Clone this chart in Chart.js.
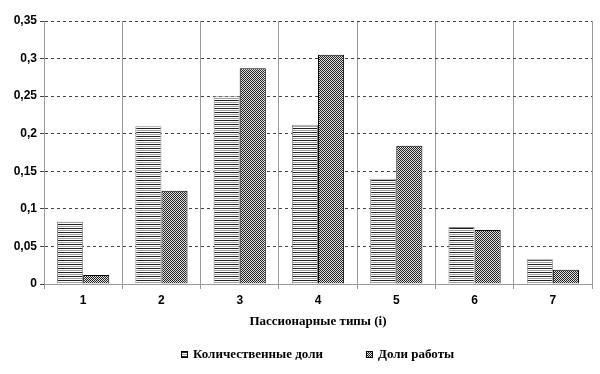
<!DOCTYPE html>
<html>
<head>
<meta charset="utf-8">
<script src="https://cdn.jsdelivr.net/npm/chart.js@4"></script>
<style>
  html, body { margin: 0; padding: 0; background: #fff; }
  #wrap { width: 600px; height: 374px; }
</style>
</head>
<body>
<div id="wrap"><canvas id="c"></canvas></div>
<script>
const categories = ['1', '2', '3', '4', '5', '6', '7'];
const quantityShares = [0.083, 0.21, 0.25, 0.212, 0.14, 0.076, 0.033];
const workShares = [0.012, 0.124, 0.287, 0.305, 0.184, 0.072, 0.019];
const yTicks = [0, 0.05, 0.1, 0.15, 0.2, 0.25, 0.3, 0.35];

// striped fill for the first series
function stripePattern() {
    const t = document.createElement('canvas');
    t.width = 4; t.height = 4;
    const g = t.getContext('2d');
    g.fillStyle = '#fff'; g.fillRect(0, 0, 4, 4);
    g.fillStyle = '#222'; g.fillRect(0, 0, 4, 1);
    g.fillStyle = '#a0a0a0'; g.fillRect(0, 2, 4, 1);
    return g.createPattern(t, 'repeat');
}

// checker fill for the second series
function checkPattern() {
    const t = document.createElement('canvas');
    t.width = 2; t.height = 2;
    const g = t.getContext('2d');
    g.fillStyle = '#e0e0e0'; g.fillRect(0, 0, 2, 2);
    g.fillStyle = '#222'; g.fillRect(0, 0, 1, 1); g.fillRect(1, 1, 1, 1);
    return g.createPattern(t, 'repeat');
}

const stripes = stripePattern();
const checks = checkPattern();

// legend drawn below the axis title, centred on the plot area
const bottomLegend = {
    id: 'bottomLegend',
    afterDraw(chart) {
        const ctx = chart.ctx;
        const area = chart.chartArea;
        const y = 355;
        const box = 7, gap = 5, between = 43;
        ctx.save();
        ctx.font = 'bold 13px "Liberation Serif"';
        ctx.textBaseline = 'middle';
        const items = chart.data.datasets.map(ds => ({
            text: ds.label, fill: ds.backgroundColor,
            w: box + gap + ctx.measureText(ds.label).width
        }));
        const total = items.reduce((s, it) => s + it.w, 0) + between * (items.length - 1);
        let x = Math.round((area.left + area.right) / 2 - total / 2);
        items.forEach(it => {
            ctx.fillStyle = it.fill;
            ctx.fillRect(x, y - 4, box, box);
            ctx.strokeStyle = '#000';
            ctx.lineWidth = 1;
            ctx.strokeRect(x + 0.5, y - 3.5, box - 1, box - 1);
            ctx.fillStyle = '#000';
            ctx.fillText(it.text, x + box + gap, y);
            x += it.w + between;
        });
        ctx.restore();
    }
};

new Chart(document.getElementById('c'), {
    type: 'bar',
    data: {
        labels: categories,
        datasets: [
            {
                label: 'Количественные доли',
                data: quantityShares,
                backgroundColor: stripes,
                borderColor: '#888',
                borderWidth: 1,
                barPercentage: 1,
                categoryPercentage: 0.667
            },
            {
                label: 'Доли работы',
                data: workShares,
                backgroundColor: checks,
                borderColor: '#000',
                borderWidth: 1,
                barPercentage: 1,
                categoryPercentage: 0.667
            }
        ]
    },
    options: {
        responsive: true,
        maintainAspectRatio: false,
        animation: false,
        layout: { padding: { top: 21, right: 8, left: 0, bottom: 45 } },
        plugins: {
            tooltip: { enabled: false },
            legend: { display: false }
        },
        scales: {
            x: {
                grid: {
                    offset: true,
                    color: '#999',
                    lineWidth: 1,
                    tickLength: 5
                },
                border: { color: '#999' },
                ticks: {
                    color: '#000',
                    font: { family: 'Liberation Sans', weight: 'bold', size: 12 },
                    padding: 4
                },
                title: {
                    display: true,
                    text: 'Пассионарные типы (i)',
                    color: '#000',
                    font: { family: 'Liberation Serif', weight: 'bold', size: 13 },
                    padding: { top: 2, bottom: 0 }
                }
            },
            y: {
                min: 0,
                max: 0.35,
                afterBuildTicks: axis => { axis.ticks = yTicks.map(v => ({ value: v })); },
                afterFit: axis => { axis.width = 44; },
                grid: {
                    color: '#444',
                    tickLength: 4
                },
                border: { color: '#999', dash: [3, 3] },
                ticks: {
                    color: '#000',
                    font: { family: 'Liberation Sans', weight: 'bold', size: 12 },
                    padding: 3,
                    callback: v => String(v).replace('.', ',')
                }
            }
        }
    },
    plugins: [bottomLegend]
});
</script>
</body>
</html>
